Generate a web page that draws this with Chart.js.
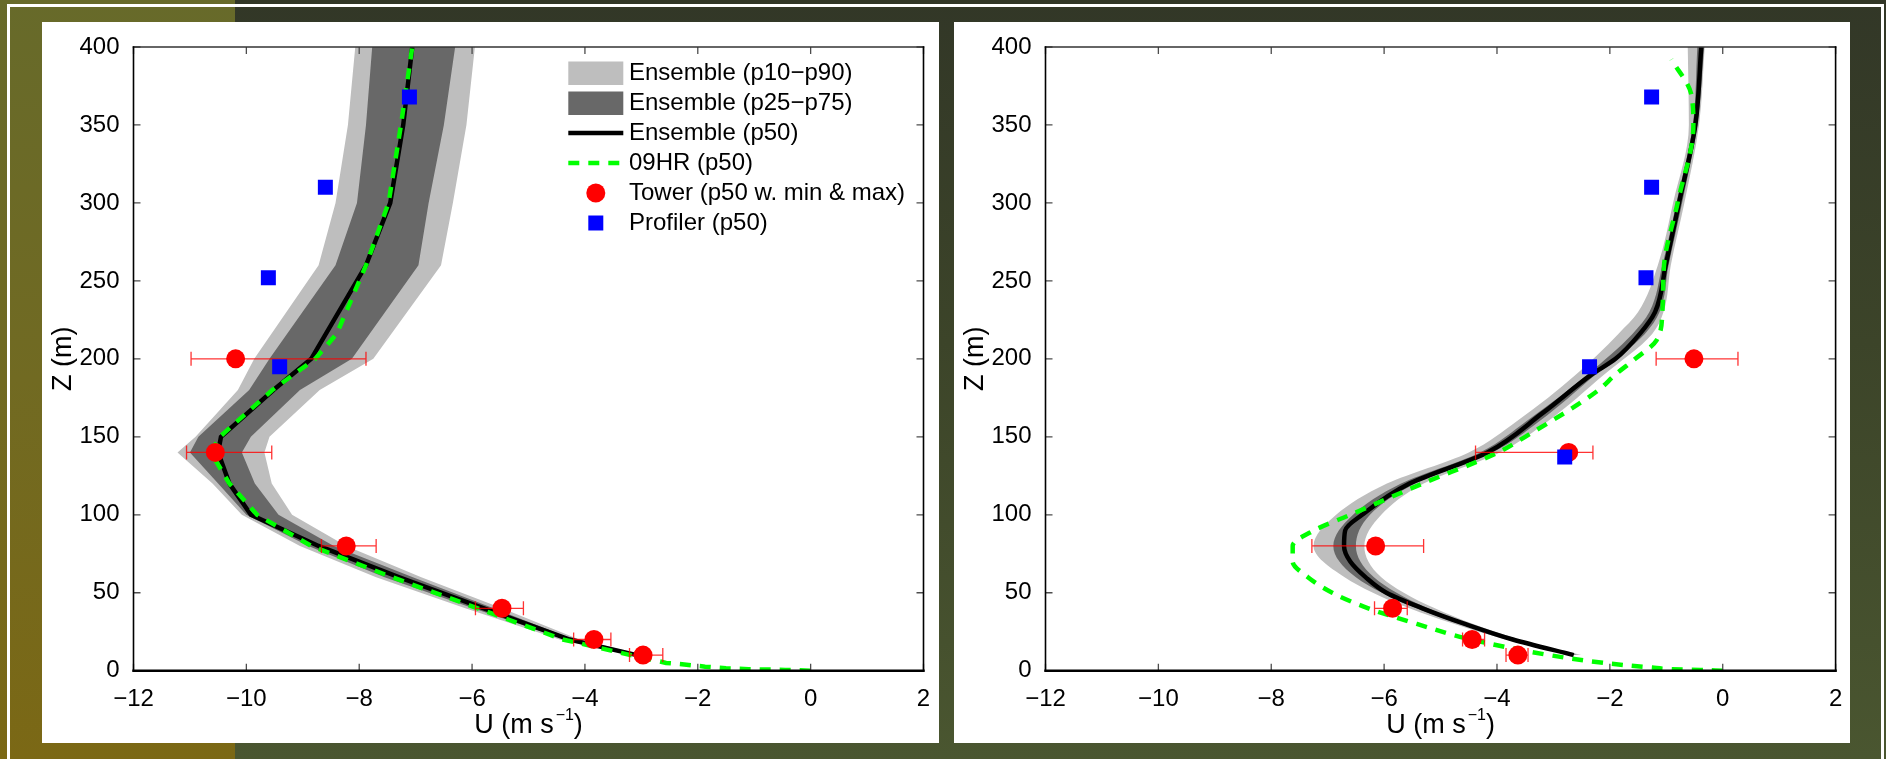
<!DOCTYPE html>
<html>
<head>
<meta charset="utf-8">
<script src="https://cdn.jsdelivr.net/npm/chart.js@4.4.1/dist/chart.umd.min.js"></script>
<style>
  html, body { margin: 0; padding: 0; width: 1886px; height: 759px; overflow: hidden; }
  body { position: relative; background: linear-gradient(to bottom, #323727 0%, #3c4429 45%, #4a5630 100%); }
  #strip { position: absolute; left: 0; top: 0; width: 235px; height: 759px;
           background: linear-gradient(to bottom, #676a2a 0%, #716a22 50%, #7b6815 100%); }
  #frame { position: absolute; left: 7px; top: 4px; width: 1877px; height: 800px;
           border: 3px solid #ffffff; border-bottom: none; box-sizing: border-box; }
  .panel { position: absolute; top: 22px; height: 721px; background: #ffffff; }
  .panel canvas { display: block; }
</style>
</head>
<body>
<div id="strip"></div>
<div id="frame"></div>
<div class="panel" style="left:42px;width:897px"><canvas id="leftChart" width="897" height="721"></canvas></div>
<div class="panel" style="left:954px;width:896px"><canvas id="rightChart" width="896" height="721"></canvas></div>

<script>
// ---- axis ticks ----
const xTickValues = [-12, -10, -8, -6, -4, -2, 0, 2];
const xTickLabels = ['\u221212', '\u221210', '\u22128', '\u22126', '\u22124', '\u22122', '0', '2'];
const yTickValues = [0, 50, 100, 150, 200, 250, 300, 350, 400];
const yTickLabels = ['0', '50', '100', '150', '200', '250', '300', '350', '400'];

// ---- axis titles and legend text ----
const xTitleMain = 'U (m s';
const xTitleSup = '\u22121';
const xTitleClose = ')';
const yTitle = 'Z (m)';
const legendTexts = ['Ensemble (p10\u2212p90)', 'Ensemble (p25\u2212p75)', 'Ensemble (p50)',
                     '09HR (p50)', 'Tower (p50 w. min & max)', 'Profiler (p50)'];

// ---- tower observations (both panels share the same heights) ----
const towerHeights = [10, 20, 40, 80, 140, 200];

// ---- left panel ----
const leftBandHeights = [10, 20, 40, 60, 80, 100, 120, 140, 150, 180, 200, 260, 300, 350, 400];
const leftP10 = [-3.2, -4.45, -6.12, -7.7, -9.05, -10.08, -10.6, -11.22, -10.9, -10.15, -9.86, -8.72, -8.42, -8.2, -8.07];
const leftP25 = [-3.12, -4.35, -5.98, -7.55, -8.9, -10.0, -10.5, -11.0, -10.85, -9.95, -9.59, -8.42, -8.04, -7.88, -7.77];
const leftP50 = [-3.08, -4.27, -5.79, -7.3, -8.72, -9.92, -10.3, -10.5, -10.45, -9.52, -8.85, -7.88, -7.45, -7.22, -7.06];
const leftP75 = [-3.02, -4.2, -5.62, -7.05, -8.45, -9.43, -9.85, -10.08, -9.92, -9.05, -8.13, -6.95, -6.77, -6.5, -6.3];
const leftP90 = [-2.95, -4.1, -5.47, -6.9, -8.23, -9.19, -9.55, -9.68, -9.59, -8.7, -7.75, -6.55, -6.34, -6.1, -5.95];

const leftHrHeights = [0, 0.5, 1, 1.6, 2.6, 4, 5, 10, 20, 40, 60, 80, 100, 120, 140, 150, 180, 200, 216, 260, 300, 350, 400];
const leftHr = [0, -0.45, -1.1, -1.5, -1.87, -2.24, -2.56, -3.19, -4.39, -5.9, -7.42, -8.85, -9.81, -10.3, -10.63, -10.47, -9.54, -8.78, -8.4, -7.88, -7.48, -7.26, -7.06];

const leftTower = [-2.97, -3.84, -5.47, -8.23, -10.55, -10.19];
const leftTowerMin = [-3.21, -4.2, -5.94, -8.67, -11.06, -10.98];
const leftTowerMax = [-2.62, -3.54, -5.09, -7.7, -9.55, -7.88];

const leftProfilerHeights = [195, 252, 310, 368];
const leftProfiler = [-9.41, -9.61, -8.6, -7.11];

// ---- right panel ----
const rightBandHeights = [10, 20, 40, 60, 80, 100, 120, 140, 160, 190, 216, 230, 260, 300, 350, 400];
const rightP10 = [-2.75, -3.85, -5.55, -6.7, -7.25, -6.85, -5.95, -4.5, -3.65, -2.6, -1.85, -1.5, -1.15, -0.88, -0.6, -0.62];
const rightP25 = [-2.7, -3.78, -5.42, -6.5, -6.9, -6.55, -5.7, -4.3, -3.48, -2.4, -1.6, -1.3, -1.07, -0.82, -0.53, -0.45];
const rightP75 = [-2.58, -3.66, -5.22, -6.18, -6.5, -6.25, -5.45, -4.08, -3.25, -2.25, -1.38, -1.12, -0.96, -0.72, -0.45, -0.33];
const rightP90 = [-2.5, -3.6, -5.1, -6.05, -6.35, -6.05, -5.3, -3.95, -3.1, -2.1, -1.25, -1.05, -0.92, -0.68, -0.42, -0.32];

const rightP50Heights = [10, 20, 30, 40, 50, 60, 70, 80, 90, 100, 120, 140, 165, 190, 200, 216, 230, 260, 300, 350, 400];
const rightP50 = [-2.64, -3.72, -4.57, -5.32, -5.96, -6.33, -6.6, -6.71, -6.69, -6.39, -5.55, -4.17, -3.2, -2.32, -1.9, -1.47, -1.2, -1.01, -0.775, -0.485, -0.38];

const rightHrHeights = [0, 0.5, 1, 2, 5, 10, 20, 30, 40, 50, 60, 70, 80, 90, 100, 120, 140, 150, 180, 190, 200, 212, 230, 260, 300, 350, 370, 392];
const rightHr = [0, -0.4, -0.9, -1.25, -2.11, -3.07, -4.46, -5.42, -6.28, -6.92, -7.35, -7.62, -7.62, -7.24, -6.6, -5.32, -3.98, -3.5, -2.2, -1.9, -1.55, -1.17, -1.07, -1.04, -0.8, -0.52, -0.56, -0.91];

const rightTower = [-3.63, -4.44, -5.85, -6.15, -2.73, -0.51];
const rightTowerMin = [-3.84, -4.61, -6.17, -7.28, -4.38, -1.18];
const rightTowerMax = [-3.45, -4.22, -5.59, -5.3, -2.3, 0.27];

const rightProfilerHeights = [137, 195, 252, 310, 368];
const rightProfiler = [-2.8, -2.36, -1.36, -1.26, -1.26];

// ---- drawing ----
const FONT = '"Liberation Sans", Arial, Helvetica, sans-serif';
Chart.defaults.font.family = FONT;

const points = (heights, values) => heights.map((z, i) => ({ x: values[i], y: z }));

// Inward tick marks on all four sides plus the axes box.
const axisBox = {
  id: 'axisBox',
  afterDatasetsDraw(chart) {
    const { ctx, chartArea: a, scales: { x, y } } = chart;
    const t = 7;
    ctx.save();
    ctx.strokeStyle = '#4d4d4d';
    ctx.lineWidth = 1.3;
    ctx.beginPath();
    x.ticks.forEach(tk => {
      const px = x.getPixelForValue(tk.value);
      ctx.moveTo(px, a.bottom); ctx.lineTo(px, a.bottom - t);
      ctx.moveTo(px, a.top); ctx.lineTo(px, a.top + t);
    });
    y.ticks.forEach(tk => {
      const py = y.getPixelForValue(tk.value);
      ctx.moveTo(a.left, py); ctx.lineTo(a.left + t, py);
      ctx.moveTo(a.right, py); ctx.lineTo(a.right - t, py);
    });
    ctx.stroke();
    ctx.lineCap = 'square';
    ctx.strokeStyle = '#333333';
    ctx.lineWidth = 1.6;
    ctx.beginPath(); ctx.moveTo(a.left, a.top); ctx.lineTo(a.right, a.top); ctx.stroke();
    ctx.strokeStyle = '#000000';
    ctx.beginPath(); ctx.moveTo(a.left, a.top); ctx.lineTo(a.left, a.bottom); ctx.stroke();
    ctx.beginPath(); ctx.moveTo(a.right, a.top); ctx.lineTo(a.right, a.bottom); ctx.stroke();
    ctx.lineWidth = 2.4;
    ctx.beginPath(); ctx.moveTo(a.left, a.bottom); ctx.lineTo(a.right, a.bottom); ctx.stroke();
    ctx.restore();
  }
};

// Horizontal min/max whiskers for the tower dataset.
const errorBars = {
  id: 'errorBars',
  beforeDatasetDraw(chart, args, opts) {
    if (args.index !== opts.datasetIndex) return;
    const { ctx, scales: { x, y } } = chart;
    const ds = chart.data.datasets[args.index];
    ctx.save();
    ctx.strokeStyle = 'rgba(255,0,0,0.8)';
    ctx.lineWidth = 1.3;
    ds.data.forEach((p, i) => {
      const py = y.getPixelForValue(p.y);
      const x0 = x.getPixelForValue(opts.min[i]);
      const x1 = x.getPixelForValue(opts.max[i]);
      ctx.beginPath();
      ctx.moveTo(x0, py); ctx.lineTo(x1, py);
      ctx.moveTo(x0, py - opts.cap); ctx.lineTo(x0, py + opts.cap);
      ctx.moveTo(x1, py - opts.cap); ctx.lineTo(x1, py + opts.cap);
      ctx.stroke();
    });
    ctx.restore();
  }
};

// Legend placed inside the plot area, styled from the datasets.
const insetLegend = {
  id: 'insetLegend',
  afterDraw(chart, args, opts) {
    if (!opts.items) return;
    const { ctx } = chart;
    ctx.save();
    opts.items.forEach((it, i) => {
      const ds = chart.data.datasets[it.dataset];
      const cy = opts.top + i * opts.step;
      const x0 = opts.left, w = opts.width;
      if (it.kind === 'band') {
        ctx.fillStyle = ds.backgroundColor;
        ctx.fillRect(x0, cy - 11.5, w, 23.5);
      } else if (it.kind === 'line') {
        ctx.strokeStyle = ds.borderColor;
        ctx.lineWidth = ds.borderWidth;
        ctx.setLineDash(ds.borderDash || []);
        ctx.beginPath(); ctx.moveTo(x0, cy); ctx.lineTo(x0 + w, cy); ctx.stroke();
        ctx.setLineDash([]);
      } else if (it.kind === 'circle') {
        ctx.fillStyle = ds.backgroundColor;
        ctx.beginPath(); ctx.arc(x0 + w / 2, cy, ds.pointRadius, 0, Math.PI * 2); ctx.fill();
      } else {
        const s = ds.pointRadius * Math.SQRT1_2;
        ctx.fillStyle = ds.backgroundColor;
        ctx.fillRect(x0 + w / 2 - s, cy - s, 2 * s, 2 * s);
      }
      ctx.fillStyle = '#000000';
      ctx.font = '24px ' + FONT;
      ctx.textBaseline = 'middle';
      ctx.textAlign = 'left';
      ctx.fillText(it.text, opts.textX, cy);
    });
    ctx.restore();
  }
};

// x-axis title with a superscript exponent.
const xTitle = {
  id: 'xTitle',
  afterDraw(chart, args, opts) {
    const { ctx, chartArea: a } = chart;
    const big = '27px ' + FONT, small = '16px ' + FONT;
    ctx.save();
    ctx.fillStyle = '#000000';
    ctx.textBaseline = 'alphabetic';
    ctx.textAlign = 'left';
    ctx.font = big;
    const w1 = ctx.measureText(opts.main).width;
    const w3 = ctx.measureText(opts.close).width;
    ctx.font = small;
    const w2 = ctx.measureText(opts.sup).width;
    const gap = 2;
    let x = (a.left + a.right) / 2 - (w1 + gap + w2 + w3) / 2;
    const y = a.bottom + opts.offset;
    ctx.font = big; ctx.fillText(opts.main, x, y); x += w1 + gap;
    ctx.font = small; ctx.fillText(opts.sup, x, y - 13); x += w2;
    ctx.font = big; ctx.fillText(opts.close, x, y);
    ctx.restore();
  }
};

function makeChart(id, d, rightPad, legend, smooth) {
  const curve = smooth ? { cubicInterpolationMode: 'monotone' } : { tension: 0 };
  const datasets = [
    { label: 'Profiler (p50)', data: points(d.profZ, d.prof), showLine: false,
      pointStyle: 'rect', pointRadius: 10.6, backgroundColor: '#0000ff', borderWidth: 0 },
    { label: 'Tower (p50 w. min & max)', data: points(towerHeights, d.tower), showLine: false,
      pointStyle: 'circle', pointRadius: 9.5, backgroundColor: '#ff0000', borderWidth: 0 },
    { label: '09HR (p50)', data: points(d.hrZ, d.hr), borderColor: '#00ff00', borderWidth: 4.5,
      borderDash: [11, 9], pointRadius: 0, fill: false, ...curve },
    { label: 'Ensemble (p50)', data: points(d.p50Z, d.p50), borderColor: '#000000', borderWidth: 4.5,
      pointRadius: 0, fill: false, ...curve },
    { label: 'p25', data: points(d.bandZ, d.p25), borderWidth: 0, borderColor: 'rgba(0,0,0,0)',
      pointRadius: 0, backgroundColor: '#686868', fill: '+1', ...curve },
    { label: 'p75', data: points(d.bandZ, d.p75), borderWidth: 0, borderColor: 'rgba(0,0,0,0)',
      pointRadius: 0, fill: false, ...curve },
    { label: 'p10', data: points(d.bandZ, d.p10), borderWidth: 0, borderColor: 'rgba(0,0,0,0)',
      pointRadius: 0, backgroundColor: '#bebebe', fill: '+1', ...curve },
    { label: 'p90', data: points(d.bandZ, d.p90), borderWidth: 0, borderColor: 'rgba(0,0,0,0)',
      pointRadius: 0, fill: false, ...curve }
  ];

  const legendItems = legend ? [
    { dataset: 6, kind: 'band', text: legendTexts[0] },
    { dataset: 4, kind: 'band', text: legendTexts[1] },
    { dataset: 3, kind: 'line', text: legendTexts[2] },
    { dataset: 2, kind: 'line', text: legendTexts[3] },
    { dataset: 1, kind: 'circle', text: legendTexts[4] },
    { dataset: 0, kind: 'square', text: legendTexts[5] }
  ] : null;

  return new Chart(document.getElementById(id), {
    type: 'line',
    data: { datasets },
    plugins: [axisBox, errorBars, insetLegend, xTitle],
    options: {
      indexAxis: 'y',
      responsive: false,
      devicePixelRatio: 1,
      animation: false,
      events: [],
      layout: { padding: { top: 25, right: rightPad, left: 0, bottom: 0 } },
      elements: { line: { borderJoinStyle: 'miter', borderCapStyle: 'butt' } },
      scales: {
        x: {
          type: 'linear', position: 'bottom', min: -12, max: 2,
          grid: { display: false }, border: { display: false },
          afterBuildTicks: s => { s.ticks = xTickValues.map(v => ({ value: v })); },
          afterFit: s => { s.height = 72.3; },
          ticks: {
            autoSkip: false, maxRotation: 0, padding: 6, color: '#000000',
            font: { size: 24, family: FONT },
            callback: v => xTickLabels[xTickValues.indexOf(v)]
          }
        },
        y: {
          type: 'linear', position: 'left', min: 0, max: 400,
          grid: { display: false }, border: { display: false },
          afterBuildTicks: s => { s.ticks = yTickValues.map(v => ({ value: v })); },
          afterFit: s => { s.width = 91.5; },
          ticks: {
            autoSkip: false, padding: 6, color: '#000000',
            font: { size: 24, family: FONT },
            callback: v => yTickLabels[yTickValues.indexOf(v)]
          },
          title: {
            display: true, text: yTitle, color: '#000000',
            font: { size: 27, family: FONT }, padding: { top: 5, bottom: 0 }
          }
        }
      },
      plugins: {
        legend: { display: false },
        tooltip: { enabled: false },
        errorBars: { datasetIndex: 1, min: d.towerMin, max: d.towerMax, cap: 7 },
        insetLegend: { items: legendItems, left: 526.3, width: 55, top: 51, step: 30, textX: 587 },
        xTitle: { main: xTitleMain, sup: xTitleSup, close: xTitleClose, offset: 62.3 }
      }
    }
  });
}

makeChart('leftChart', {
  bandZ: leftBandHeights, p10: leftP10, p25: leftP25, p75: leftP75, p90: leftP90,
  p50Z: leftBandHeights, p50: leftP50,
  hrZ: leftHrHeights, hr: leftHr,
  tower: leftTower, towerMin: leftTowerMin, towerMax: leftTowerMax,
  profZ: leftProfilerHeights, prof: leftProfiler
}, 15.5, true, false);

makeChart('rightChart', {
  bandZ: rightBandHeights, p10: rightP10, p25: rightP25, p75: rightP75, p90: rightP90,
  p50Z: rightP50Heights, p50: rightP50,
  hrZ: rightHrHeights, hr: rightHr,
  tower: rightTower, towerMin: rightTowerMin, towerMax: rightTowerMax,
  profZ: rightProfilerHeights, prof: rightProfiler
}, 14.4, false, true);
</script>
</body>
</html>
